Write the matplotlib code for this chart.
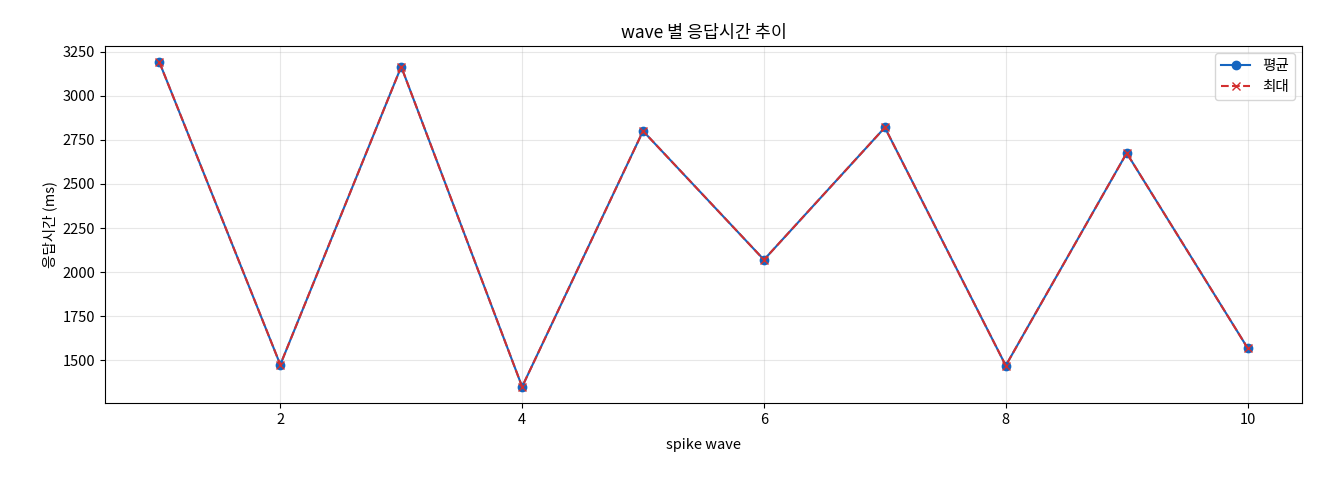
import matplotlib
matplotlib.use("Agg")
import matplotlib.pyplot as plt

plt.rcParams['font.family'] = ['Noto Sans CJK KR', 'DejaVu Sans']
plt.rcParams['axes.unicode_minus'] = False

waves = [1, 2, 3, 4, 5, 6, 7, 8, 9, 10]
avg_ms = [3190, 1475, 3165, 1350, 2800, 2070, 2820, 1470, 2675, 1570]
max_ms = [3190, 1475, 3165, 1350, 2800, 2070, 2820, 1470, 2675, 1570]

fig = plt.figure(figsize=(13.2, 4.8), dpi=100)
ax = fig.add_axes([105/1320, 77/480, 1197/1320, 357/480])
ax.plot(waves, avg_ms, '-o', color='#1565C0', label='평균', markersize=6)
ax.plot(waves, max_ms, '--x', color='#D32F2F', label='최대', markersize=6)
ax.set_title('wave 별 응답시간 추이', fontsize=12.5)
ax.set_xlabel('spike wave', fontsize=10.5, labelpad=8)
ax.set_ylabel('응답시간 (ms)', fontsize=10.5)
ax.tick_params(labelsize=10.5)
ax.grid(True, alpha=0.3)
ax.legend(loc='upper right', fontsize=10.5)
fig.savefig('out.png', dpi=100)
